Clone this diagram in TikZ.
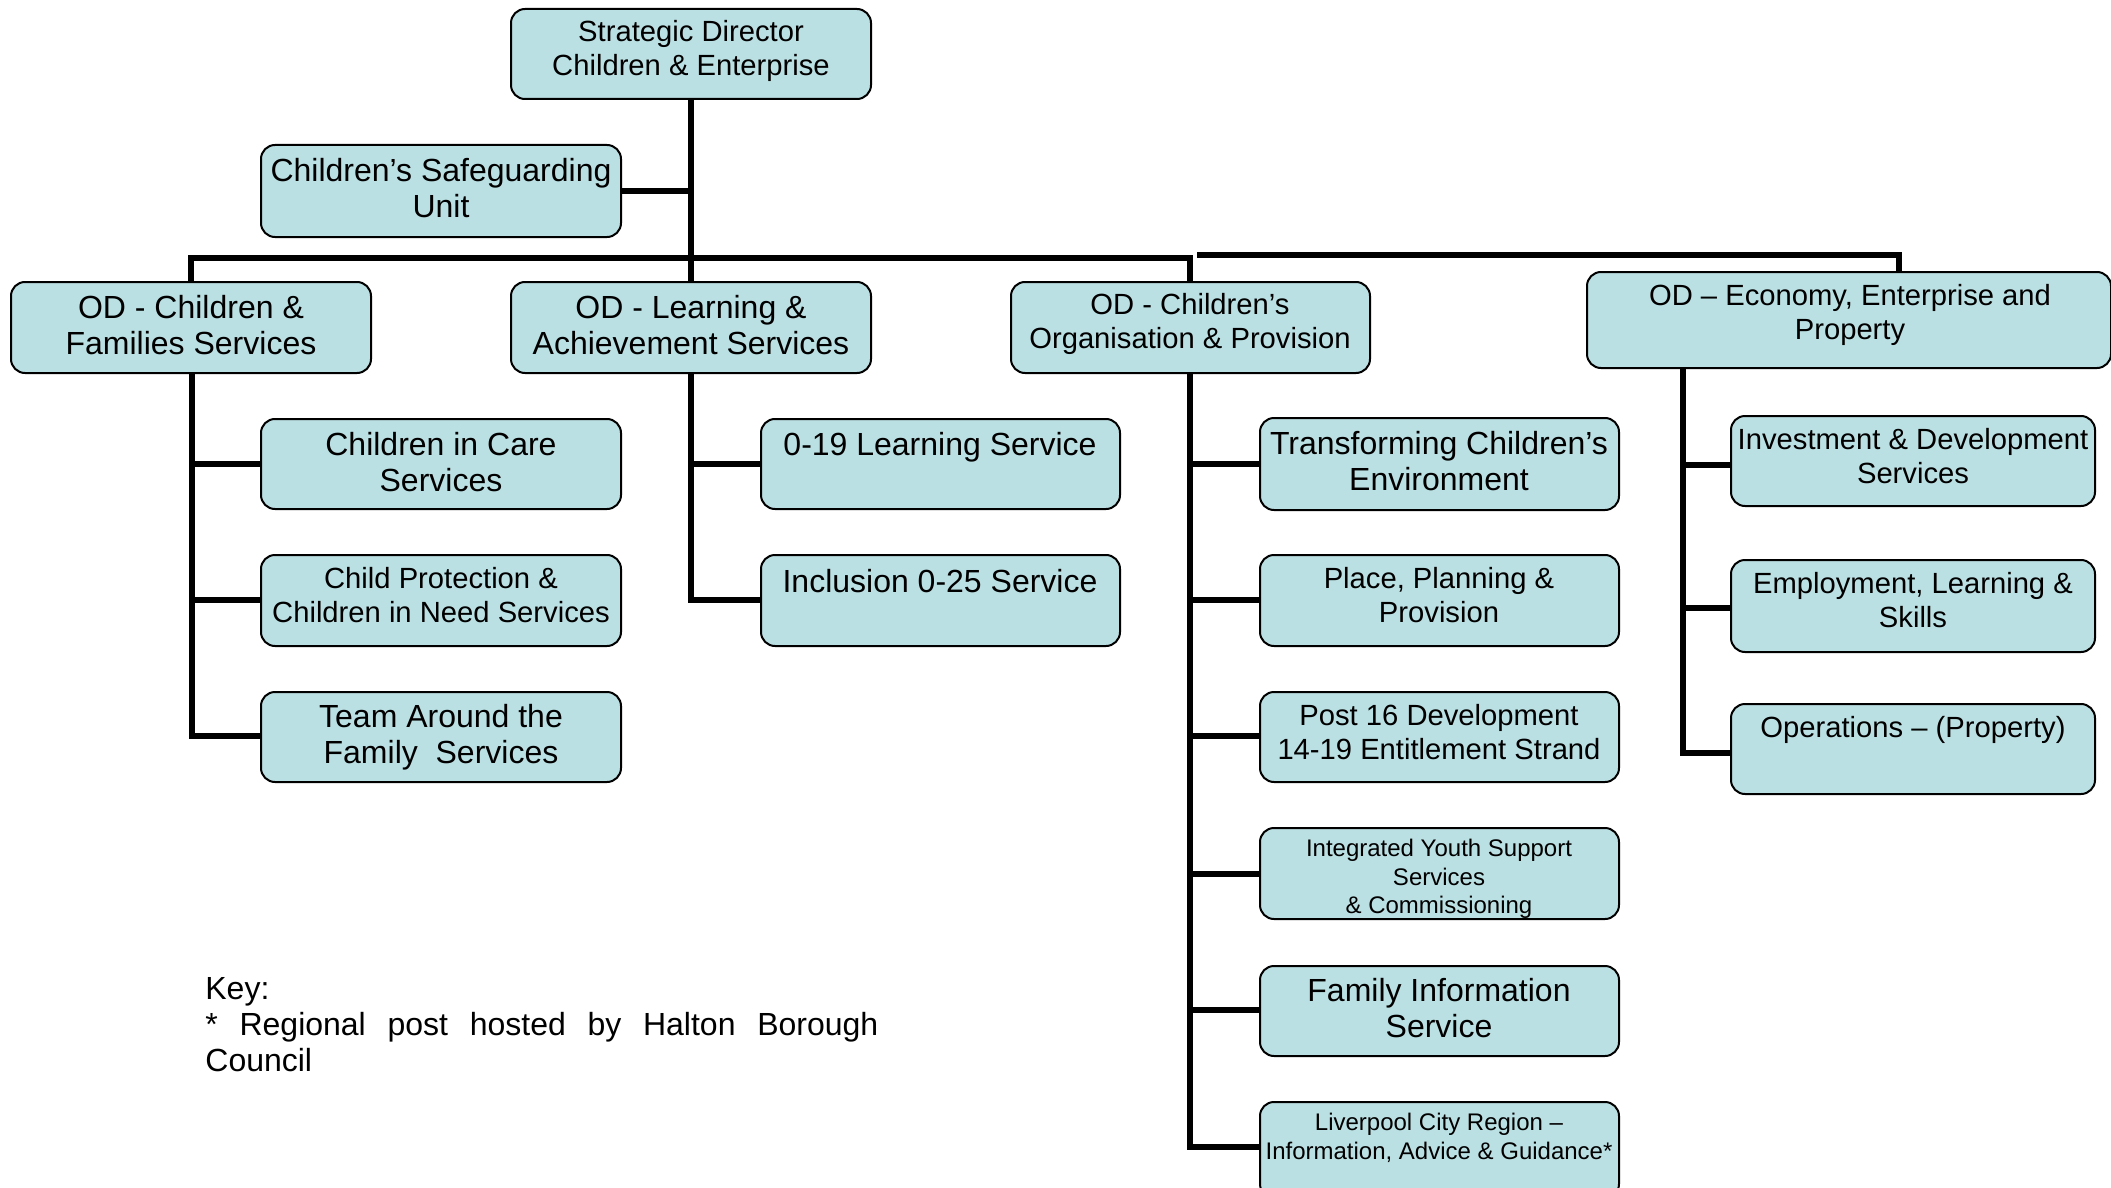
\documentclass[tikz,border=0pt]{standalone}
\usepackage{fontspec}
\setmainfont{Liberation Sans}
\definecolor{boxfill}{RGB}{187,224,227}
\tikzset{
  box/.style={draw=black, line width=1pt, fill=boxfill, rounded corners=7pt, inner sep=0pt},
  txt/.style={inner sep=0pt, align=center},
  fA/.style={font=\fontsize{14.6}{16.9}\selectfont},
  fB/.style={font=\fontsize{16}{18}\selectfont},
  fC/.style={font=\fontsize{12}{14.2}\selectfont},
  conn/.style={line width=2.6pt, line cap=rect},
}
\begin{document}
\begin{tikzpicture}[x=0.5pt, y=-0.5pt]
\useasboundingbox (0,0) rectangle (2111,1188);
\clip (0,0) rectangle (2111,1188);
\fill[white] (0,0) rectangle (2111,1188);

% coordinates for connectors
\coordinate (busL) at (191,258);
\coordinate (busR) at (1190,258);
\coordinate (rl1) at (1200,255);
\coordinate (rl2) at (1899,255);
\coordinate (cfv) at (192,736);
\coordinate (lav) at (691,600);
\coordinate (copv) at (1190,1147);
\coordinate (eept) at (1683,368);
\coordinate (eepv) at (1683,753);

% connectors (drawn first, under boxes)
\draw[conn] (691,99) -- (691,282);
\draw[conn] (621,191) -- (691,191);
\draw[conn] (busL) -- (busR);
\draw[conn] (busL) -- (191,282);
\draw[conn] (busR) -- (1190,282);
\draw[conn] (rl1) -- (rl2) -- (1899,272);
% OD C&F
\draw[conn] (192,373) -- (cfv);
\draw[conn] (192,464) -- (261,464);
\draw[conn] (192,600) -- (261,600);
\draw[conn] (192,736) -- (261,736);
% OD L&A
\draw[conn] (691,373) -- (lav);
\draw[conn] (691,464) -- (761,464);
\draw[conn] (691,600) -- (761,600);
% OD CO&P
\draw[conn] (1190,373) -- (copv);
\draw[conn] (1190,464) -- (1260,464);
\draw[conn] (1190,600) -- (1260,600);
\draw[conn] (1190,736) -- (1260,736);
\draw[conn] (1190,874) -- (1260,874);
\draw[conn] (1190,1010) -- (1260,1010);
\draw[conn] (1190,1147) -- (1260,1147);
% OD EEP
\draw[conn] (eept) -- (eepv);
\draw[conn] (1683,465) -- (1731,465);
\draw[conn] (1683,608) -- (1731,608);
\draw[conn] (1683,753) -- (1731,753);

% boxes
\node[box, minimum width=180pt, minimum height=45pt] (strat) at (691,54) {};
\node[box, minimum width=180pt, minimum height=46pt] (safe) at (441,191) {};
\node[box, minimum width=180pt, minimum height=45.5pt] (odcf) at (191,327.5) {};
\node[box, minimum width=180pt, minimum height=45.5pt] (odla) at (691,327.5) {};
\node[box, minimum width=179.5pt, minimum height=45.5pt] (odcop) at (1190.5,327.5) {};
\node[box, minimum width=262pt, minimum height=48pt] (odeep) at (1849,320) {};

\node[box, minimum width=180pt, minimum height=45pt] (cic) at (441,464) {};
\node[box, minimum width=180pt, minimum height=45.5pt] (cp) at (441,600.5) {};
\node[box, minimum width=180pt, minimum height=45pt] (tac) at (441,737) {};

\node[box, minimum width=179.5pt, minimum height=45pt] (l019) at (940.5,464) {};
\node[box, minimum width=179.5pt, minimum height=45.5pt] (incl) at (940.5,600.5) {};

\node[box, minimum width=179.5pt, minimum height=46pt] (tce) at (1439.5,464) {};
\node[box, minimum width=179.5pt, minimum height=45.5pt] (ppp) at (1439.5,600.5) {};
\node[box, minimum width=179.5pt, minimum height=45pt] (p16) at (1439.5,737) {};
\node[box, minimum width=179.5pt, minimum height=45.5pt] (iys) at (1439.5,873.5) {};
\node[box, minimum width=179.5pt, minimum height=45pt] (fis) at (1439.5,1011) {};
\node[box, minimum width=179.5pt, minimum height=48pt] (lcr) at (1439.5,1150) {};

\node[box, minimum width=182pt, minimum height=45pt] (ids) at (1913,461) {};
\node[box, minimum width=182pt, minimum height=46pt] (els) at (1913,606) {};
\node[box, minimum width=182pt, minimum height=45pt] (ops) at (1913,749) {};

% texts
\node[txt, fA] (stratT) at (691,51) {Strategic Director\\Children \& Enterprise};
\node[txt, fB] (safeT) at (441,188) {Children’s Safeguarding\\Unit};
\node[txt, fB] (odcfT) at (191,325) {OD - Children \&\\Families Services};
\node[txt, fB] (odlaT) at (691,325) {OD - Learning \&\\Achievement Services};
\node[txt, fA] (odcopT) at (1190,324) {OD - Children’s\\Organisation \& Provision};
\node[txt, fA] (odeepT) at (1850,315) {OD – Economy, Enterprise and\\Property};

\node[txt, fB] (cicT) at (441,462) {Children in Care\\Services};
\node[txt, fA] (cpT) at (441,595) {Child Protection \&\\Children in Need Services};
\node[txt, fB] (tacT) at (441,737) {Team Around the\\Family\ \ Services};

\node[txt, fB] (l019T) at (940,447) {0-19 Learning Service};
\node[txt, fB] (inclT) at (940,581) {Inclusion 0-25 Service};

\node[txt, fB] (tceT) at (1439,461) {Transforming Children’s\\Environment};
\node[txt, fA] (pppT) at (1439,595) {Place, Planning \&\\Provision};
\node[txt, fA] (p16T) at (1439,732) {Post 16 Development\\14-19 Entitlement Strand};
\node[txt, fC] (iysT) at (1439,879) {Integrated Youth Support\\Services\\\& Commissioning};
\node[txt, fB] (fisT) at (1439,1008) {Family Information\\Service};
\node[txt, fC] (lcrT) at (1439,1138) {Liverpool City Region –\\Information, Advice \& Guidance*};

\node[txt, fA] (idsT) at (1913,456) {Investment \& Development\\Services};
\node[txt, fA] (elsT) at (1913,600) {Employment, Learning \&\\Skills};
\node[txt, fA] (opsT) at (1913,730) {Operations – (Property)};

% key
\node[inner sep=0pt, anchor=west, text width=336.5pt, align=left, fB] (key) at (205,1025) {Key:\\\leavevmode\hbox to 336.5pt{*\hfill Regional\hfill post\hfill hosted\hfill by\hfill Halton\hfill Borough}\\Council};
\end{tikzpicture}
\end{document}
